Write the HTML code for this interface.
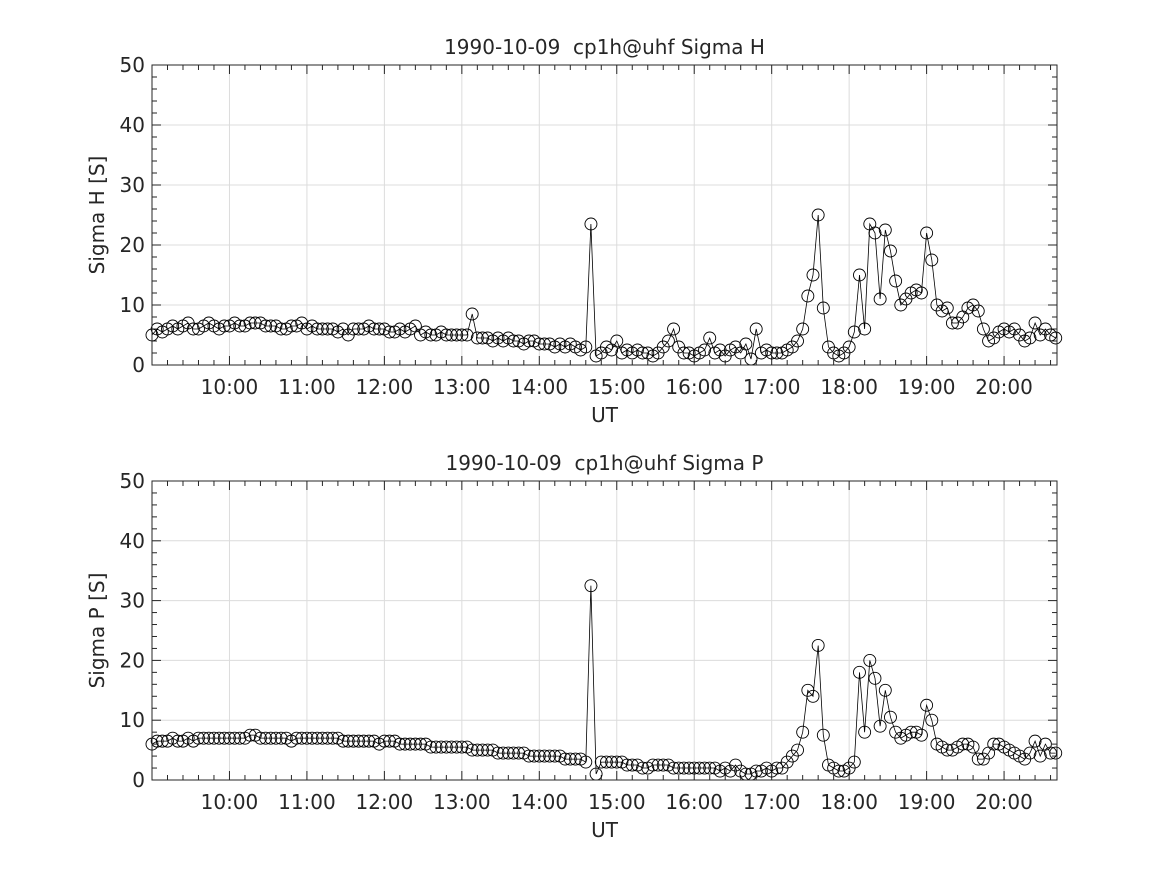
<!DOCTYPE html>
<html><head><meta charset="utf-8"><style>
html,body{margin:0;padding:0;background:#fff}
svg text{font-family:"DejaVu Sans","Liberation Sans",sans-serif;fill:#262626;white-space:pre}
</style></head><body>
<svg id="chart" width="1167" height="875" viewBox="0 0 1167 875" xmlns="http://www.w3.org/2000/svg" xml:space="preserve"></svg>
<script>
// data: 4-minute samples starting at 09:00 UT
const startMinute = 540;
const stepMinutes = 4;
const sigmaH = [
5,6,5.5,6,6.5,6,6.5,7,6,6,6.5,7,6.5,6,6.5,
6.5,7,6.5,6.5,7,7,7,6.5,6.5,6.5,6,6,6.5,6.5,7,
6,6.5,6,6,6,6,5.5,6,5,6,6,6,6.5,6,6,
6,5.5,5.5,6,5.5,6,6.5,5,5.5,5,5,5.5,5,5,5,
5,5,8.5,4.5,4.5,4.5,4,4.5,4,4.5,4,4,3.5,4,4,
3.5,3.5,3.5,3,3.5,3,3.5,3,2.5,3,23.5,1.5,2,3,2.5,
4,2,2.5,2,2.5,2,2,1.5,2,3,4,6,3,2,2,
1.5,2,2.5,4.5,2,2.5,1.5,2.5,3,2,3.5,1,6,2,2.5,
2,2,2,2.5,3,4,6,11.5,15,25,9.5,3,2,1.5,2,
3,5.5,15,6,23.5,22,11,22.5,19,14,10,11,12,12.5,12,
22,17.5,10,9,9.5,7,7,8,9.5,10,9,6,4,4.5,5.5,
6,5.5,6,5,4,4.5,7,5,6,5,4.5];
const sigmaP = [
6,6.5,6.5,6.5,7,6.5,6.5,7,6.5,7,7,7,7,7,7,
7,7,7,7,7.5,7.5,7,7,7,7,7,7,6.5,7,7,
7,7,7,7,7,7,7,6.5,6.5,6.5,6.5,6.5,6.5,6.5,6,
6.5,6.5,6.5,6,6,6,6,6,6,5.5,5.5,5.5,5.5,5.5,5.5,
5.5,5.5,5,5,5,5,5,4.5,4.5,4.5,4.5,4.5,4.5,4,4,
4,4,4,4,4,3.5,3.5,3.5,3.5,3,32.5,1,3,3,3,
3,3,2.5,2.5,2.5,2,2,2.5,2.5,2.5,2.5,2,2,2,2,
2,2,2,2,2,1.5,2,1.5,2.5,1.5,1,1,1.5,1.5,2,
1.5,2,2,3,4,5,8,15,14,22.5,7.5,2.5,2,1.5,1.5,
2,3,18,8,20,17,9,15,10.5,8,7,7.5,8,8,7.5,
12.5,10,6,5.5,5,5,5.5,6,6,5.5,3.5,3.5,4.5,6,6,
5.5,5,4.5,4,3.5,4.5,6.5,4,6,4.5,4.5];
const xTickMinutes = [600,660,720,780,840,900,960,1020,1080,1140,1200];
const xTickLabels = ["10:00","11:00","12:00","13:00","14:00","15:00","16:00","17:00","18:00","19:00","20:00"];
const yTicks = [0,10,20,30,40,50];

const NS="http://www.w3.org/2000/svg";
const svg=document.getElementById('chart');
const X0=152,X1=1057,XMIN=540,XMAX=1241;
function xs(m){return X0+(m-XMIN)/(XMAX-XMIN)*(X1-X0);}
function mk(tag,attrs,parent){const e=document.createElementNS(NS,tag);for(const k in attrs)e.setAttribute(k,attrs[k]);(parent||svg).appendChild(e);return e;}

function panel(top,bottom,values,title,ylabel,key){
  const g=mk('g',{});
  
  
  const ys=v=>bottom-(v/50)*(bottom-top);
  xTickMinutes.forEach(m=>{const l=mk('line',{x1:xs(m),x2:xs(m),y1:top,y2:bottom,stroke:'#dcdcdc','stroke-width':1},g);
    });
  yTicks.forEach(v=>{const l=mk('line',{x1:X0,x2:X1,y1:ys(v),y2:ys(v),stroke:'#dcdcdc','stroke-width':1},g);
    });
  for(let m=552;m<XMAX;m+=12){const x=xs(m);const major=xTickMinutes.includes(m);const len=major?9:5;
    mk('line',{x1:x,x2:x,y1:bottom,y2:bottom-len,stroke:'#262626','stroke-width':1},g);
    mk('line',{x1:x,x2:x,y1:top,y2:top+len,stroke:'#262626','stroke-width':1},g);}
  for(let v=2;v<50;v+=2){const y=ys(v);const len=(v%10===0)?9:5;
    mk('line',{x1:X0,x2:X0+len,y1:y,y2:y,stroke:'#262626','stroke-width':1},g);
    mk('line',{x1:X1,x2:X1-len,y1:y,y2:y,stroke:'#262626','stroke-width':1},g);}
  const pts=values.map((v,i)=>xs(startMinute+i*stepMinutes).toFixed(1)+','+ys(v).toFixed(1)).join(' ');
  const pl=mk('polyline',{points:pts,fill:'none',stroke:'#000','stroke-width':0.8},g);
  
  
  values.forEach((v,i)=>{const c=mk('circle',{cx:xs(startMinute+i*stepMinutes),cy:ys(v),r:6,fill:'none',stroke:'#000','stroke-width':0.9},g);
    
    });
  const b=mk('rect',{x:X0,y:top,width:X1-X0,height:bottom-top,fill:'none',stroke:'#262626','stroke-width':1},g);
  
  
  xTickMinutes.forEach((m,i)=>{const t=mk('text',{x:xs(m),y:bottom+29,'text-anchor':'middle','font-size':20},g);t.textContent=xTickLabels[i];
    });
  yTicks.forEach(v=>{const t=mk('text',{x:X0-7,y:ys(v)+7,'text-anchor':'end','font-size':20},g);t.textContent=String(v);
    });
  const tt=mk('text',{x:(X0+X1)/2,y:top-11,'text-anchor':'middle','font-size':20},g);tt.textContent=title;
  
  const xl=mk('text',{x:(X0+X1)/2,y:bottom+57,'text-anchor':'middle','font-size':20},g);xl.textContent='UT';
  
  const cy=(top+bottom)/2;
  const yl=mk('text',{x:104,y:cy,'text-anchor':'middle','font-size':20,transform:'rotate(-90 104 '+cy+')'},g);yl.textContent=ylabel;
  
}
panel(65,365,sigmaH,'1990-10-09  cp1h@uhf Sigma H','Sigma H [S]','sigma-h');
panel(481,780,sigmaP,'1990-10-09  cp1h@uhf Sigma P','Sigma P [S]','sigma-p');
</script>
</body></html>
